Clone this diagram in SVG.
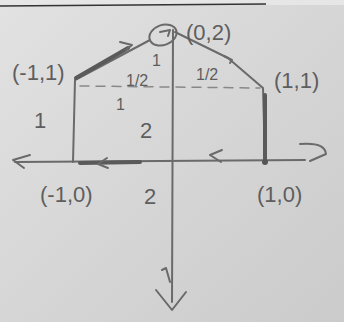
<svg xmlns="http://www.w3.org/2000/svg" width="344" height="322" viewBox="0 0 344 322">
<defs>
<linearGradient id="bg" x1="0" y1="0" x2="1" y2="1">
<stop offset="0" stop-color="#e2e2e2"/>
<stop offset="0.5" stop-color="#d6d6d6"/>
<stop offset="1" stop-color="#cbcbcb"/>
</linearGradient>
<style>
.p{fill:none;stroke:#6a6a6a;stroke-width:2;stroke-linecap:round;stroke-linejoin:round}
.t{stroke:#5a5a5a;stroke-width:4}
.d{stroke-dasharray:9 7;stroke:#888;stroke-width:1.5}
.l{font-family:"Liberation Sans",sans-serif;fill:#5e5e5e;font-size:22px}
.s{font-size:16px}
</style>
</defs>
<rect width="344" height="322" fill="url(#bg)"/>
<rect width="344" height="5" fill="#e6e6e6"/>
<line x1="0" y1="6" x2="266" y2="4" stroke="#333" stroke-width="1.5"/>
<g id="shape">
<path class="p" d="M73,162 L75,80 L150,40"/>
<path class="p t" d="M76,78 L128,48"/>
<path class="p" d="M175,32 L228,58 L263,88 L265,162"/>
<path class="p t" d="M265,95 L265,160"/>
<ellipse cx="163" cy="35" rx="14" ry="10" class="p" transform="rotate(-20 163 35)"/>
<path class="p" d="M160,32 L170,30 L168,36" stroke="#444"/>
<path class="p d" d="M80,86 L260,88"/>
<path class="p" d="M120,42 L132,45 L126,50"/>
<path class="p" d="M224,56 L232,60 L230,63"/>
</g>
<g id="axes">
<path class="p" d="M15,162 L305,160"/>
<path class="p t" d="M80,163 L140,162"/>
<path class="p" d="M30,155 L13,160 L24,168"/>
<path class="p" d="M107,158 L98,164 L108,168"/>
<path class="p" d="M222,150 L210,155 L221,162"/>
<path class="p" d="M300,144 Q325,142 326,154 L310,161"/>
<circle cx="265" cy="162" r="3" fill="#555"/>
<path class="p" d="M173,30 L172,302"/>
<path class="p" d="M156,290 L172,310 L186,292"/>
<path class="p" d="M170,282 L166,268 L162,270"/>
</g>
<g id="labels">
<text class="l" x="12" y="80">(-1,1)</text>
<text class="l" x="186" y="40">(0,2)</text>
<text class="l" x="274" y="88">(1,1)</text>
<text class="l" x="40" y="202">(-1,0)</text>
<text class="l" x="257" y="202">(1,0)</text>
<text class="l" x="144" y="204">2</text>
<text class="l" x="140" y="138">2</text>
<text class="l" x="34" y="128">1</text>
<text class="l s" x="116" y="110">1</text>
<text class="l s" x="152" y="66">1</text>
<text class="l s" x="126" y="86">1/2</text>
<text class="l s" x="196" y="80">1/2</text>
</g>
</svg>
